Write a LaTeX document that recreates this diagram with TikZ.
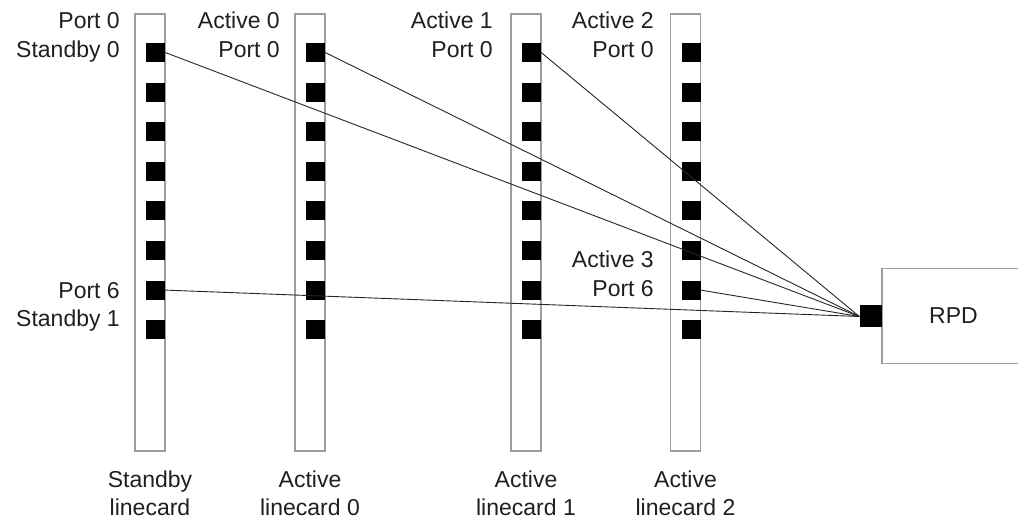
\documentclass[tikz,border=0pt]{standalone}
\usepackage{fontspec}
\setmainfont{Liberation Sans}
\begin{document}
\begin{tikzpicture}[x=1pt,y=-1pt,
  card/.style={draw=black!38, line width=1.6pt, fill=white, rectangle, minimum width=30pt, minimum height=437pt, inner sep=0pt},
  port/.style={fill=black, rectangle, minimum width=19pt, minimum height=19pt, inner sep=0pt},
  rpdbox/.style={draw=black!38, line width=1.8pt, fill=white, rectangle, minimum width=143pt, minimum height=95pt, inner sep=0pt, font=\fontsize{23}{28}\selectfont, text=black!88},
  rpdport/.style={fill=black, rectangle, minimum width=22pt, minimum height=22pt, inner sep=0pt},
  lbl/.style={font=\fontsize{23}{28}\selectfont, text=black!88, inner sep=0pt},
  link/.style={draw=black!85, line width=0.9pt}]
\useasboundingbox (0,0) rectangle (1018,518);
\clip (0,0) rectangle (1018,518);
% linecards
\node[card] (sc) at (150,232.5) {};
\node[card] (ac0) at (310,232.5) {};
\node[card] (ac1) at (526,232.5) {};
\node[card] (ac2) at (685.5,232.5) {};
% ports
\foreach \c/\x in {s/155.5, a/315.5, b/531.5, c/691} {
  \foreach \i in {0,...,7} {
    \node[port] (\c\i) at (\x, 52.5+39.6*\i) {};
  }
}
% RPD
\node[rpdbox] (rpd) at (953.5,316) {RPD};
\node[rpdport] (rp) at (870.5,316.5) {};
% links
\draw[link] (s0.east) -- (rp.west);
\draw[link] (a0.east) -- (rp.west);
\draw[link] (b0.east) -- (rp.west);
\draw[link] (c6.east) -- (rp.west);
\draw[link] (s6.east) -- (rp.west);
% port labels
\node[lbl, anchor=base east] (t1) at (120,28.5) {Port 0};
\node[lbl, anchor=base east] (t2) at (120,57.5) {Standby 0};
\node[lbl, anchor=base east] (t3) at (280,28.5) {Active 0};
\node[lbl, anchor=base east] (t4) at (280,57.5) {Port 0};
\node[lbl, anchor=base east] (t5) at (493,28.5) {Active 1};
\node[lbl, anchor=base east] (t6) at (493,57.5) {Port 0};
\node[lbl, anchor=base east] (t7) at (654,28.5) {Active 2};
\node[lbl, anchor=base east] (t8) at (654,57.5) {Port 0};
\node[lbl, anchor=base east] (t9) at (654,268) {Active 3};
\node[lbl, anchor=base east] (t10) at (654,296.5) {Port 6};
\node[lbl, anchor=base east] (t11) at (120,299) {Port 6};
\node[lbl, anchor=base east] (t12) at (120,327) {Standby 1};
% card labels
\node[lbl, anchor=base] (b1) at (150,488) {Standby};
\node[lbl, anchor=base] (b2) at (150,515) {linecard};
\node[lbl, anchor=base] (b3) at (310,488) {Active};
\node[lbl, anchor=base] (b4) at (310,515) {linecard 0};
\node[lbl, anchor=base] (b5) at (526,488) {Active};
\node[lbl, anchor=base] (b6) at (526,515) {linecard 1};
\node[lbl, anchor=base] (b7) at (685.5,488) {Active};
\node[lbl, anchor=base] (b8) at (685.5,515) {linecard 2};
\end{tikzpicture}
\end{document}
